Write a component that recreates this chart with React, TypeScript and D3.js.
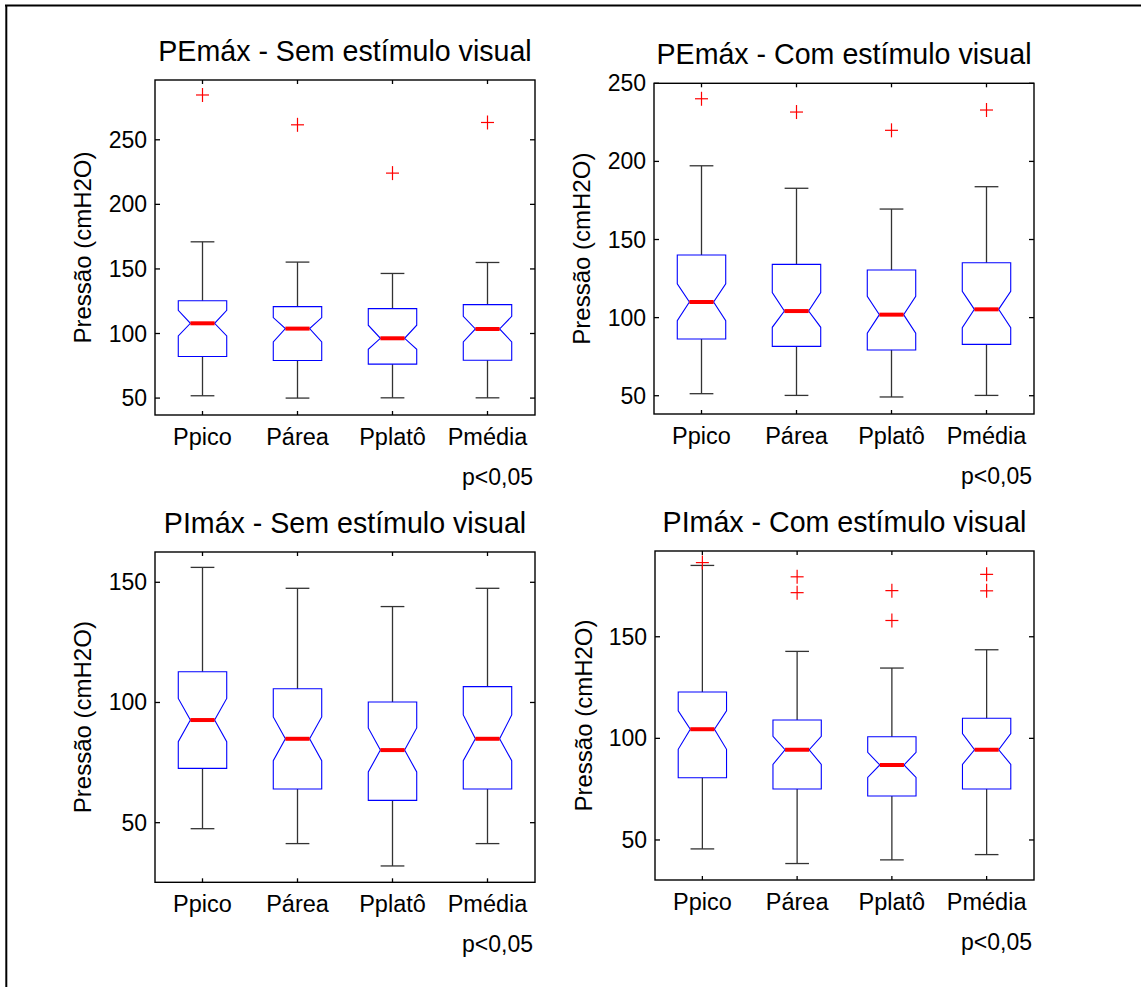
import React from 'react';
import * as d3 from 'd3';

const categories = ['Ppico', 'Párea', 'Pplatô', 'Pmédia'];

// Panel 1: PEmáx - Sem estímulo visual
const pemaxSemLower = [51.8, 50, 50.2, 50.2];
const pemaxSemQ1 = [82.2, 79.1, 76.3, 79.3];
const pemaxSemNotchLo = [98.1, 93.5, 87.8, 93.5];
const pemaxSemMedian = [107.9, 103.8, 96.3, 103.5];
const pemaxSemNotchHi = [118, 112.3, 106.4, 113.3];
const pemaxSemQ3 = [125.4, 120.8, 119.3, 122.4];
const pemaxSemUpper = [171, 155.3, 146.5, 155];
const pemaxSemOutliers = [[284.7], [261.6], [224.2], [263.4]];
const pemaxSemTicks = [50, 100, 150, 200, 250];

// Panel 2: PEmáx - Com estímulo visual
const pemaxComLower = [51.3, 50.2, 49.2, 50.2];
const pemaxComQ1 = [86.3, 81.6, 79.3, 82.9];
const pemaxComNotchLo = [98, 93.8, 90.1, 93.5];
const pemaxComMedian = [110, 104.2, 101.9, 105.3];
const pemaxComNotchHi = [121.7, 116, 113.6, 116.8];
const pemaxComQ3 = [140.1, 134.1, 130.5, 135.1];
const pemaxComUpper = [197.2, 182.8, 169.5, 183.8];
const pemaxComOutliers = [[240.1], [231.6], [219.9], [232.9]];
const pemaxComTicks = [50, 100, 150, 200, 250];

// Panel 3: PImáx - Sem estímulo visual
const pimaxSemLower = [47.5, 41.3, 32, 41.3];
const pimaxSemQ1 = [72.6, 64, 59.3, 64];
const pimaxSemNotchLo = [83.7, 75.8, 71.1, 75.8];
const pimaxSemMedian = [92.7, 84.9, 80.2, 84.9];
const pimaxSemNotchHi = [101.7, 94, 89.4, 94.8];
const pimaxSemQ3 = [112.8, 105.7, 100.2, 106.6];
const pimaxSemUpper = [156.2, 147.5, 139.9, 147.5];
const pimaxSemOutliers: number[][] = [[], [], [], []];
const pimaxSemTicks = [50, 100, 150];

// Panel 4: PImáx - Com estímulo visual
const pimaxComLower = [45.6, 38.4, 40.2, 42.8];
const pimaxComQ1 = [80.6, 75.1, 71.6, 75.1];
const pimaxComNotchLo = [94.6, 87.2, 80.8, 87.2];
const pimaxComMedian = [104.5, 94.4, 86.9, 94.4];
const pimaxComNotchHi = [113.5, 101, 93.1, 102.3];
const pimaxComQ3 = [122.8, 109, 100.8, 109.9];
const pimaxComUpper = [185.1, 142.8, 134.6, 143.6];
const pimaxComOutliers = [[186.5], [179.5, 171.7], [172.7, 158], [180.7, 172.6]];
const pimaxComTicks = [50, 100, 150];

const FONT = '"Liberation Sans", Arial, Helvetica, sans-serif';

type PanelDef = {
  title: string;
  lower: number[]; q1: number[]; notchLo: number[]; median: number[];
  notchHi: number[]; q3: number[]; upper: number[]; outliers: number[][];
  ticks: number[];
  domain: [number, number];
  rect: { left: number; top: number; right: number; bottom: number };
  ylabelX: number;
};

const panels: PanelDef[] = [
  {
    title: 'PEmáx - Sem estímulo visual',
    lower: pemaxSemLower, q1: pemaxSemQ1, notchLo: pemaxSemNotchLo, median: pemaxSemMedian,
    notchHi: pemaxSemNotchHi, q3: pemaxSemQ3, upper: pemaxSemUpper, outliers: pemaxSemOutliers,
    ticks: pemaxSemTicks, domain: [36.9, 296.3],
    rect: { left: 155, top: 80, right: 535, bottom: 415 }, ylabelX: 82,
  },
  {
    title: 'PEmáx - Com estímulo visual',
    lower: pemaxComLower, q1: pemaxComQ1, notchLo: pemaxComNotchLo, median: pemaxComMedian,
    notchHi: pemaxComNotchHi, q3: pemaxComQ3, upper: pemaxComUpper, outliers: pemaxComOutliers,
    ticks: pemaxComTicks, domain: [38.3, 250],
    rect: { left: 654, top: 83.3, right: 1034, bottom: 414 }, ylabelX: 581,
  },
  {
    title: 'PImáx - Sem estímulo visual',
    lower: pimaxSemLower, q1: pimaxSemQ1, notchLo: pimaxSemNotchLo, median: pimaxSemMedian,
    notchHi: pimaxSemNotchHi, q3: pimaxSemQ3, upper: pimaxSemUpper, outliers: pimaxSemOutliers,
    ticks: pimaxSemTicks, domain: [25.2, 162.6],
    rect: { left: 155, top: 552, right: 535, bottom: 882.3 }, ylabelX: 82,
  },
  {
    title: 'PImáx - Com estímulo visual',
    lower: pimaxComLower, q1: pimaxComQ1, notchLo: pimaxComNotchLo, median: pimaxComMedian,
    notchHi: pimaxComNotchHi, q3: pimaxComQ3, upper: pimaxComUpper, outliers: pimaxComOutliers,
    ticks: pimaxComTicks, domain: [30.3, 192.2],
    rect: { left: 655, top: 551, right: 1034, bottom: 880 }, ylabelX: 583,
  },
];

function Panel({ p }: { p: PanelDef }) {
  const { left, top, right, bottom } = p.rect;
  const x = d3.scaleLinear().domain([0.5, categories.length + 0.5]).range([left, right]);
  const y = d3.scaleLinear().domain(p.domain).range([bottom, top]);
  const step = x(1) - x(0);
  const halfBox = step * 0.255;
  const halfNotch = halfBox * 0.5;
  const halfCap = step * 0.125;
  const cx = (left + right) / 2;
  const cy = (top + bottom) / 2;
  const tickLen = 5;

  return (
    <g>
      <text x={cx} y={top - 19} textAnchor="middle" fontFamily={FONT} fontSize={28.6} fill="#000">
        {p.title}
      </text>
      <text
        transform={`translate(${p.ylabelX},${cy}) rotate(-90)`}
        textAnchor="middle" dominantBaseline="central"
        fontFamily={FONT} fontSize={24} fill="#000"
      >
        Pressão (cmH2O)
      </text>
      {p.ticks.map((t) => (
        <g key={'yt' + t}>
          <line x1={left} x2={left + tickLen} y1={y(t)} y2={y(t)} stroke="#000" strokeWidth={1.3} />
          <line x1={right} x2={right - tickLen} y1={y(t)} y2={y(t)} stroke="#000" strokeWidth={1.3} />
          <text x={left - 8} y={y(t)} textAnchor="end" dominantBaseline="central"
            fontFamily={FONT} fontSize={23} fill="#000">{t}</text>
        </g>
      ))}
      {categories.map((c, i) => (
        <g key={'xt' + c}>
          <line x1={x(i + 1)} x2={x(i + 1)} y1={bottom} y2={bottom - tickLen + 1} stroke="#000" strokeWidth={1.3} />
          <line x1={x(i + 1)} x2={x(i + 1)} y1={top} y2={top + tickLen - 1} stroke="#000" strokeWidth={1.3} />
          <text x={x(i + 1)} y={bottom + 30} textAnchor="middle"
            fontFamily={FONT} fontSize={23.5} fill="#000">{c}</text>
        </g>
      ))}
      {categories.map((c, i) => {
        const xc = x(i + 1);
        const path = d3.path();
        path.moveTo(xc - halfBox, y(p.q1[i]));
        path.lineTo(xc - halfBox, y(p.notchLo[i]));
        path.lineTo(xc - halfNotch, y(p.median[i]));
        path.lineTo(xc - halfBox, y(p.notchHi[i]));
        path.lineTo(xc - halfBox, y(p.q3[i]));
        path.lineTo(xc + halfBox, y(p.q3[i]));
        path.lineTo(xc + halfBox, y(p.notchHi[i]));
        path.lineTo(xc + halfNotch, y(p.median[i]));
        path.lineTo(xc + halfBox, y(p.notchLo[i]));
        path.lineTo(xc + halfBox, y(p.q1[i]));
        path.closePath();
        return (
          <g key={'b' + c}>
            <line x1={xc} x2={xc} y1={y(p.q3[i])} y2={y(p.upper[i])} stroke="#333" strokeWidth={1.3} />
            <line x1={xc} x2={xc} y1={y(p.q1[i])} y2={y(p.lower[i])} stroke="#333" strokeWidth={1.3} />
            <line x1={xc - halfCap} x2={xc + halfCap} y1={y(p.upper[i])} y2={y(p.upper[i])} stroke="#333" strokeWidth={1.3} />
            <line x1={xc - halfCap} x2={xc + halfCap} y1={y(p.lower[i])} y2={y(p.lower[i])} stroke="#333" strokeWidth={1.3} />
            <path d={path.toString()} fill="none" stroke="#0000ff" strokeWidth={1.1} />
            <line x1={xc - halfNotch} x2={xc + halfNotch} y1={y(p.median[i])} y2={y(p.median[i])}
              stroke="#ff0000" strokeWidth={4} />
            {p.outliers[i].map((o, k) => (
              <g key={'o' + k} stroke="#ff0000" strokeWidth={1.2}>
                <line x1={xc - 6.5} x2={xc + 6.5} y1={y(o)} y2={y(o)} />
                <line x1={xc} x2={xc} y1={y(o) - 7} y2={y(o) + 7} />
              </g>
            ))}
          </g>
        );
      })}
      <rect x={left} y={top} width={right - left} height={bottom - top} fill="none" stroke="#000" strokeWidth={1.4} />
      <text x={right - 2} y={bottom + 70} textAnchor="end" fontFamily={FONT} fontSize={23} fill="#000">
        p&lt;0,05
      </text>
    </g>
  );
}

export default function App() {
  return (
    <svg width={1141} height={987} style={{ position: 'absolute', left: 0, top: 0, background: '#fff' }}>
      <rect x={0} y={0} width={1141} height={987} fill="#fff" />
      <line x1={5} x2={1141} y1={5.5} y2={5.5} stroke="#000" strokeWidth={2} />
      <line x1={6.3} x2={6.3} y1={5} y2={987} stroke="#000" strokeWidth={2} />
      {panels.map((p, i) => (
        <Panel key={i} p={p} />
      ))}
    </svg>
  );
}
